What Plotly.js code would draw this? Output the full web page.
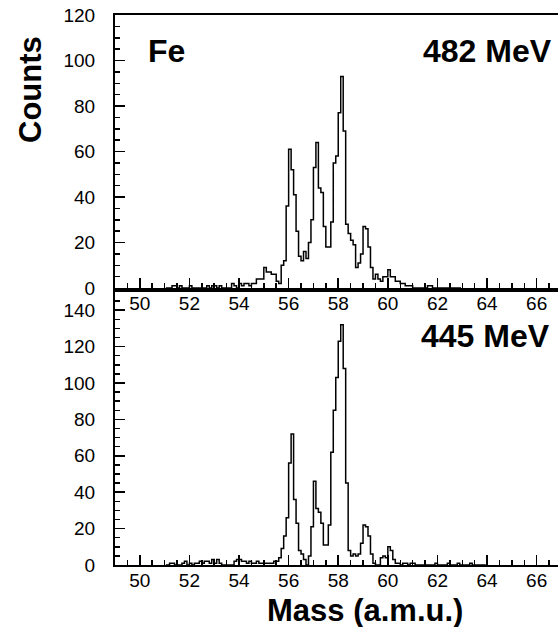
<!DOCTYPE html>
<html>
<head>
<meta charset="utf-8">
<script src="https://cdn.plot.ly/plotly-3.0.1.min.js"></script>
<style>html,body{margin:0;padding:0;background:#fff;overflow:hidden}</style>
</head>
<body>
<div id="chart" style="width:558px;height:628px"></div>
<script>
// Histogram bins: 0.1 a.m.u. wide, first bin centred at 51.05
const binWidth = 0.1;
const firstBinCenter = 51.05;

// Counts per bin, 482 MeV (top panel), bins 51.0 ... 62.9
const counts482 = [
  0,0,0,1,1,0,1,0,0,0,        // 51.x
  1,0,0,0,0,0,0,1,0,1,        // 52.x
  1,0,1,0,0,0,0,2,1,0,        // 53.x
  2,1,2,2,1,2,2,4,4,4,        // 54.x
  9,7,7,6,6,3,2,10,12,36,     // 55.x
  61,52,41,25,14,12,16,13,20,30, // 56.x
  53,64,44,42,27,18,18,29,55,58, // 57.x
  77,93,69,28,24,21,19,9,11,15,  // 58.x
  27,26,18,9,4,6,4,3,5,5,     // 59.x
  8,5,5,3,3,2,2,1,1,1,        // 60.x
  0,0,0,0,0,0,1,1,0,0,        // 61.x
  0,0,0,0,0,0,0,0,0,0         // 62.x
];

// Counts per bin, 445 MeV (bottom panel), bins 51.0 ... 63.9
const counts445 = [
  0,0,1,1,0,0,0,1,2,0,        // 51.x
  1,0,1,1,2,1,2,2,1,3,        // 52.x
  1,3,1,0,0,0,0,0,2,3,        // 53.x
  3,2,2,1,2,1,1,2,1,1,        // 54.x
  1,1,1,1,2,2,4,9,16,26,      // 55.x
  56,72,36,23,8,6,3,0,5,21,   // 56.x
  46,31,29,23,11,11,22,62,85,103, // 57.x
  123,132,108,45,8,5,6,5,6,12,    // 58.x
  22,21,16,6,1,0,0,4,5,4,     // 59.x
  10,8,3,1,1,0,1,1,0,1,       // 60.x
  1,0,0,0,0,0,0,0,0,1,        // 61.x
  0,0,0,0,1,0,0,0,1,0,        // 62.x
  0,0,0,1,0,0,0,0,0,0         // 63.x
];

const panelLabels = ["482 MeV", "445 MeV"];
const elementLabel = "Fe";
const xTitle = "Mass (a.m.u.)";
const yTitle = "Counts";

// ---- layout helpers (pixel geometry) ----
const W = 558, H = 628, ML = 115, MR = 0, MT = 15, MB = 63;
const PW = W - ML - MR, PH = H - MT - MB;
const px = v => (v - ML) / PW;
const py = v => (H - MB - v) / PH;

const tickFont = {family: 'Liberation Sans, Arial, sans-serif', size: 19, color: '#000'};
const boldFont = s => ({family: 'Liberation Sans, Arial, sans-serif', size: s, color: '#000', weight: 'bold'});

const xBase = {
  range: [49, 66.86], tick0: 50, dtick: 2,
  ticks: 'inside', ticklen: 10, tickwidth: 1.5, tickcolor: '#000',
  showline: true, linewidth: 2, linecolor: '#000', mirror: true,
  showgrid: false, zeroline: false, tickfont: tickFont, ticklabelstandoff: -3,
  minor: {tick0: 49, dtick: 0.5, ticks: 'inside', ticklen: 5, tickwidth: 1.5, tickcolor: '#000', showgrid: false}
};
const yBase = {
  dtick: 20, tick0: 0,
  ticks: 'inside', ticklen: 10, tickwidth: 1.5, tickcolor: '#000',
  showline: true, linewidth: 2, linecolor: '#000', mirror: false,
  showgrid: false, zeroline: false, tickfont: tickFont, ticklabelstandoff: 14,
  minor: {tick0: 0, dtick: 5, ticks: 'inside', ticklen: 5, tickwidth: 1.5, tickcolor: '#000', showgrid: false}
};

const traces = [
  {type: 'scatter', mode: 'lines', x0: firstBinCenter, dx: binWidth, y: counts482,
   line: {shape: 'hvh', color: '#000', width: 1.5}, xaxis: 'x', yaxis: 'y', hoverinfo: 'skip'},
  {type: 'scatter', mode: 'lines', x0: firstBinCenter, dx: binWidth, y: counts445,
   line: {shape: 'hvh', color: '#000', width: 1.5}, xaxis: 'x2', yaxis: 'y2', hoverinfo: 'skip'}
];

const layout = {
  width: W, height: H,
  margin: {l: ML, r: MR, t: MT, b: MB, pad: 0},
  paper_bgcolor: '#fff', plot_bgcolor: '#fff',
  showlegend: false,
  xaxis: Object.assign({}, xBase, {anchor: 'y', domain: [0, 1]}),
  yaxis: Object.assign({}, yBase, {anchor: 'x', domain: [py(288), 1], range: [0, 120]}),
  xaxis2: Object.assign({}, xBase, {anchor: 'y2', domain: [0, 1]}),
  yaxis2: Object.assign({}, yBase, {anchor: 'x2', domain: [0, py(292)], range: [0, 150]}),
  annotations: [
    {text: yTitle, xref: 'paper', yref: 'paper', x: px(30), y: py(90), textangle: -90,
     xanchor: 'center', yanchor: 'middle', showarrow: false, font: boldFont(31)},
    {text: elementLabel, xref: 'paper', yref: 'paper', x: px(146), y: py(50.5),
     xanchor: 'left', yanchor: 'middle', showarrow: false, font: boldFont(32)},
    {text: panelLabels[0], xref: 'paper', yref: 'paper', x: px(554), y: py(50.5),
     xanchor: 'right', yanchor: 'middle', showarrow: false, font: boldFont(32)},
    {text: panelLabels[1], xref: 'paper', yref: 'paper', x: px(552), y: py(335.5),
     xanchor: 'right', yanchor: 'middle', showarrow: false, font: boldFont(32)},
    {text: xTitle, xref: 'paper', yref: 'paper', x: px(365), y: py(610), height: 34, borderpad: 0,
     valign: 'middle', xanchor: 'center', yanchor: 'middle', showarrow: false, font: boldFont(31)}
  ]
};

Plotly.newPlot('chart', traces, layout, {staticPlot: true, displayModeBar: false});
</script>
</body>
</html>
